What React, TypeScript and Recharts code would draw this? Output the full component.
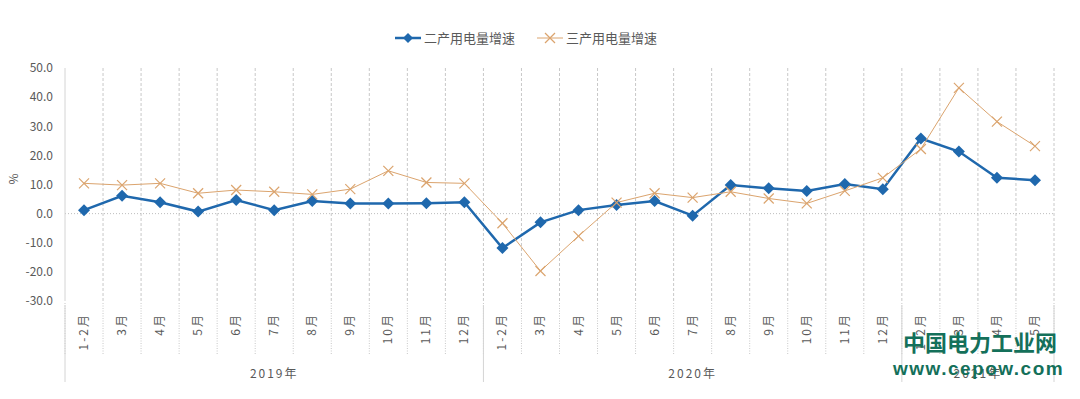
import React from 'react';
import {
  LineChart,
  Line,
  XAxis,
  YAxis,
  CartesianGrid,
  Legend,
  ReferenceLine,
  Label
} from 'recharts';

// categories
const months = [
  '1-2月', '3月', '4月', '5月', '6月', '7月', '8月', '9月', '10月', '11月', '12月',
  '1-2月', '3月', '4月', '5月', '6月', '7月', '8月', '9月', '10月', '11月', '12月',
  '1-2月', '3月', '4月', '5月'
];
const years = ['2019年', '2020年', '2021年'];
const yearCounts = [11, 11, 4];

// series values (%)
const secondIndustry = [
  1.2, 6.1, 3.9, 0.7, 4.7, 1.2, 4.3, 3.5, 3.5, 3.6, 3.9,
  -11.8, -3.0, 1.2, 3.0, 4.3, -0.7, 9.8, 8.7, 7.8, 10.2, 8.4,
  25.8, 21.3, 12.3, 11.5
];
const thirdIndustry = [
  10.4, 9.8, 10.4, 7.0, 8.1, 7.5, 6.6, 8.4, 14.7, 10.7, 10.4,
  -3.3, -19.7, -7.7, 3.8, 7.0, 5.5, 7.5, 5.2, 3.5, 7.8, 12.3,
  22.2, 43.2, 31.6, 23.2
];

const yTicks = [-30, -20, -10, 0, 10, 20, 30, 40, 50];

const BLUE = '#1f68ad';
const ORANGE = '#dba46e';
const TEXT = '#595959';
const GRID = '#c8c8c8';
const FONT = "'Noto Sans CJK SC', 'Noto Sans', sans-serif";
const seriesOrder = ['second', 'third'];

const data = months.map((m, i) => ({
  x: i + 0.5,
  month: m,
  second: secondIndustry[i],
  third: thirdIndustry[i]
}));

// band edges and centres on a 0..n numeric axis
const edges = months.map((_, i) => i).concat(months.length);
const monthTicks = [...edges, ...data.map(d => d.x)].sort((a, b) => a - b);

const yearEdges = [0];
yearCounts.forEach(c => yearEdges.push(yearEdges[yearEdges.length - 1] + c));
const yearMids = yearCounts.map((c, i) => yearEdges[i] + c / 2);
const yearTicks = [...yearEdges, ...yearMids].sort((a, b) => a - b);

const Diamond = ({ cx, cy, r = 6, fill }: any) => (
  <polygon
    points={`${cx},${cy - r} ${cx + r},${cy} ${cx},${cy + r} ${cx - r},${cy}`}
    fill={fill}
  />
);

const Cross = ({ cx, cy, r = 5, stroke }: any) => (
  <g stroke={stroke} strokeWidth={1.2}>
    <line x1={cx - r} y1={cy - r} x2={cx + r} y2={cy + r} />
    <line x1={cx - r} y1={cy + r} x2={cx + r} y2={cy - r} />
  </g>
);

const MonthTick = (props: any) => {
  const { x, y, payload } = props;
  const v = payload.value;
  if (Number.isInteger(v)) {
    return (
      <line x1={x} x2={x} y1={y + 2} y2={y + 54} stroke={GRID} strokeDasharray="1 1.5" />
    );
  }
  return (
    <text
      transform={`translate(${x},${y}) rotate(-90)`}
      x={-12}
      dy={4}
      textAnchor="end"
      fontSize={12}
      fill={TEXT}
      letterSpacing={2}
      fontFamily={FONT}
    >
      {months[Math.floor(v)]}
    </text>
  );
};

const YearTick = (props: any) => {
  const { x, y, payload } = props;
  const k = yearMids.indexOf(payload.value);
  if (k === -1) {
    return <line x1={x} x2={x} y1={y - 50} y2={y + 27} stroke="#d4d4d4" />;
  }
  return (
    <text x={x} y={y + 23} textAnchor="middle" fontSize={12} fill={TEXT} letterSpacing={2} fontFamily={FONT}>
      {years[k]}
    </text>
  );
};

const LegendContent = ({ payload }: any) => {
  const items = [...(payload || [])].sort(
    (a: any, b: any) => seriesOrder.indexOf(a.dataKey) - seriesOrder.indexOf(b.dataKey)
  );
  return (
    <div style={{ display: 'flex', alignItems: 'center', fontFamily: FONT, fontSize: 13, color: TEXT }}>
      {items.map((item: any, i: number) => {
        const isSecond = item.dataKey === 'second';
        return (
          <div key={item.value} style={{ display: 'flex', alignItems: 'center', marginLeft: i ? 22 : 0 }}>
            <svg width={26} height={14}>
              <line x1={0} x2={26} y1={7} y2={7} stroke={item.color} strokeWidth={isSecond ? 2.5 : 1} />
              {isSecond
                ? <Diamond cx={13} cy={7} r={5} fill={item.color} />
                : <Cross cx={13} cy={7} r={5} stroke={item.color} />}
            </svg>
            <span style={{ marginLeft: 3 }}>{item.value}</span>
          </div>
        );
      })}
    </div>
  );
};

export default function App() {
  return (
    <div style={{ position: 'absolute', left: 0, top: 0, width: 1080, height: 399, background: '#fff', fontFamily: FONT }}>
      <LineChart width={1080} height={399} data={data} margin={{ top: 68, right: 26, left: 0, bottom: 14 }}>
        <CartesianGrid
          horizontal={false}
          verticalValues={edges.slice(1)}
          stroke={GRID}
          strokeDasharray="3 2"
        />
        <XAxis
          dataKey="x"
          type="number"
          domain={[0, months.length]}
          ticks={monthTicks}
          interval={0}
          tick={<MonthTick />}
          tickLine={false}
          axisLine={false}
          tickSize={0}
          tickMargin={0}
          height={54}
        />
        <XAxis
          xAxisId="year"
          dataKey="x"
          type="number"
          domain={[0, months.length]}
          ticks={yearTicks}
          interval={0}
          tick={<YearTick />}
          tickLine={false}
          axisLine={false}
          tickSize={0}
          tickMargin={0}
          height={30}
        />
        <YAxis
          domain={[-30, 50]}
          ticks={yTicks}
          interval={0}
          width={65}
          tickFormatter={(v: number) => v.toFixed(1)}
          tick={{ fontSize: 12, fill: TEXT, fontFamily: FONT }}
          tickLine={false}
          tickSize={0}
          tickMargin={12}
          axisLine={{ stroke: '#d4d4d4' }}
        >
          <Label value="%" angle={-90} position="insideLeft" offset={14} fill={TEXT} fontSize={12} />
        </YAxis>
        <ReferenceLine y={0} stroke="#bdbdbd" strokeDasharray="1 2" />
        <Legend
          verticalAlign="middle"
          align="center"
          content={<LegendContent />}
          wrapperStyle={{ top: 28, left: 395, width: 'auto' }}
        />
        <Line
          dataKey="second"
          name="二产用电量增速"
          stroke={BLUE}
          strokeWidth={2.5}
          isAnimationActive={false}
          dot={(p: any) => <Diamond key={`s-${p.index}`} cx={p.cx} cy={p.cy} r={6} fill={BLUE} />}
          activeDot={false}
        />
        <Line
          dataKey="third"
          name="三产用电量增速"
          stroke={ORANGE}
          strokeWidth={1}
          isAnimationActive={false}
          dot={(p: any) => <Cross key={`t-${p.index}`} cx={p.cx} cy={p.cy} r={5} stroke={ORANGE} />}
          activeDot={false}
        />
      </LineChart>
      <div style={{ position: 'absolute', left: 903, top: 328, color: '#14705a', fontWeight: 700, fontSize: 22, lineHeight: '26px', whiteSpace: 'nowrap' }}>
        中国电力工业网
      </div>
      <div style={{ position: 'absolute', left: 893, top: 357, color: '#14705a', fontWeight: 700, fontSize: 19, letterSpacing: 1.5, lineHeight: '24px', fontFamily: "'Liberation Sans', Arial, sans-serif", whiteSpace: 'nowrap' }}>
        www.cepow.com
      </div>
    </div>
  );
}
